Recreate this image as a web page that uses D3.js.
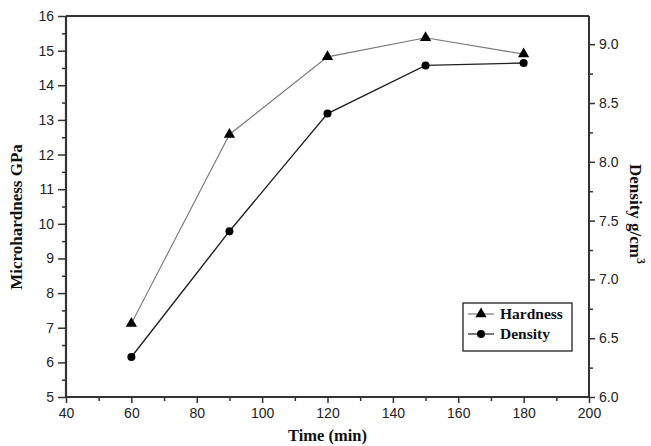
<!DOCTYPE html>
<html>
<head>
<meta charset="utf-8">
<script src="https://cdn.jsdelivr.net/npm/d3@7/dist/d3.min.js"></script>
<style>
  html, body { margin: 0; padding: 0; background: #fff; }
  svg { display: block; }
  .tick text { font-family: "Liberation Sans", Arial, sans-serif; font-size: 14px; fill: #222; }
  .title { font-family: "Liberation Serif", "Times New Roman", serif; font-weight: bold; font-size: 17px; fill: #111; }
  .leg { font-family: "Liberation Serif", "Times New Roman", serif; font-weight: bold; font-size: 15.5px; fill: #111; }
</style>
</head>
<body>
<script>
const times = [60, 90, 120, 150, 180];
const hardness = [7.12, 12.58, 14.82, 15.37, 14.9];
const density = [6.34, 7.41, 8.41, 8.82, 8.84];
const xTicks = [40, 60, 80, 100, 120, 140, 160, 180, 200];
const leftTicks = [5, 6, 7, 8, 9, 10, 11, 12, 13, 14, 15, 16];
const rightTicks = [6.0, 6.5, 7.0, 7.5, 8.0, 8.5, 9.0];

const W = 651, H = 446;
const m = { left: 66, right: 589, top: 16, bottom: 397 };

const svg = d3.select("body").append("svg").attr("width", W).attr("height", H);

const x = d3.scaleLinear().domain([40, 200]).range([m.left, m.right]);
const yL = d3.scaleLinear().domain([5, 16]).range([m.bottom, m.top]);
const yR = d3.scaleLinear().domain([6.0, 9.24]).range([m.bottom, m.top]);

const axisColor = "#333";

function styleAxis(g) {
  g.select(".domain").remove();
  g.selectAll(".tick line").attr("stroke", axisColor).attr("stroke-width", 1.5);
}

// minor ticks
const xMinor = d3.range(50, 200, 20);
const lMinor = d3.range(5.5, 16, 1);
const rMinor = d3.range(6.25, 9.24, 0.5);

svg.append("g").attr("transform", `translate(0,${m.bottom})`)
  .call(d3.axisBottom(x).tickValues(xMinor).tickSize(4).tickFormat(""))
  .call(styleAxis);
svg.append("g").attr("transform", `translate(${m.left},0)`)
  .call(d3.axisLeft(yL).tickValues(lMinor).tickSize(4).tickFormat(""))
  .call(styleAxis);
svg.append("g").attr("transform", `translate(${m.right},0)`)
  .call(d3.axisRight(yR).tickValues(rMinor).tickSize(4).tickFormat(""))
  .call(styleAxis);

// major ticks
svg.append("g").attr("transform", `translate(0,${m.bottom})`)
  .call(d3.axisBottom(x).tickValues(xTicks).tickSize(6).tickPadding(5).tickFormat(d3.format("d")))
  .call(styleAxis);
svg.append("g").attr("transform", `translate(${m.left},0)`)
  .call(d3.axisLeft(yL).tickValues(leftTicks).tickSize(8).tickPadding(4).tickFormat(d3.format("d")))
  .call(styleAxis);
svg.append("g").attr("transform", `translate(${m.right},0)`)
  .call(d3.axisRight(yR).tickValues(rightTicks).tickSize(6).tickPadding(4).tickFormat(d3.format(".1f")))
  .call(styleAxis);

// frame lines
svg.append("line").attr("x1", m.left).attr("x2", m.right).attr("y1", m.top).attr("y2", m.top)
  .attr("stroke", axisColor).attr("stroke-width", 2);
svg.append("line").attr("x1", m.left).attr("x2", m.right).attr("y1", m.bottom).attr("y2", m.bottom)
  .attr("stroke", axisColor).attr("stroke-width", 2);
svg.append("line").attr("x1", m.left).attr("x2", m.left).attr("y1", m.top).attr("y2", m.bottom)
  .attr("stroke", axisColor).attr("stroke-width", 2.2);
svg.append("line").attr("x1", m.right).attr("x2", m.right).attr("y1", m.top).attr("y2", m.bottom)
  .attr("stroke", axisColor).attr("stroke-width", 2);

// lines
const hData = times.map((t, i) => [t, hardness[i]]);
const dData = times.map((t, i) => [t, density[i]]);

svg.append("path").datum(hData)
  .attr("d", d3.line().x(d => x(d[0])).y(d => yL(d[1])))
  .attr("fill", "none").attr("stroke", "#777").attr("stroke-width", 1.1);
svg.append("path").datum(dData)
  .attr("d", d3.line().x(d => x(d[0])).y(d => yR(d[1])))
  .attr("fill", "none").attr("stroke", "#222").attr("stroke-width", 1.4);

const tri = d3.symbol().type(d3.symbolTriangle).size(55);
svg.append("g").selectAll("path").data(hData).join("path")
  .attr("d", tri)
  .attr("transform", d => `translate(${x(d[0])},${yL(d[1])})`)
  .attr("fill", "#000");
svg.append("g").selectAll("circle").data(dData).join("circle")
  .attr("cx", d => x(d[0])).attr("cy", d => yR(d[1])).attr("r", 4)
  .attr("fill", "#000");

// titles
svg.append("text").attr("class", "title").style("font-size", "16.5px")
  .attr("x", (m.left + m.right) / 2).attr("y", 441)
  .attr("text-anchor", "middle").text("Time (min)");
svg.append("text").attr("class", "title")
  .attr("transform", `translate(22,217) rotate(-90)`)
  .attr("text-anchor", "middle").text("Microhardness GPa");
const rt = svg.append("text").attr("class", "title")
  .attr("transform", `translate(630,214) rotate(90)`)
  .attr("text-anchor", "middle");
rt.append("tspan").text("Density g/cm");
rt.append("tspan").attr("dy", -7).attr("font-size", "12px").text("3");

// legend
const lg = svg.append("g").attr("transform", "translate(463,303)");
lg.append("rect").attr("width", 109).attr("height", 48)
  .attr("fill", "#fff").attr("stroke", "#222").attr("stroke-width", 1.3);
const legItems = [
  { name: "Hardness", color: "#777", sym: "tri" },
  { name: "Density", color: "#222", sym: "circ" }
];
legItems.forEach((it, i) => {
  const yy = 11 + i * 20;
  lg.append("line").attr("x1", 5).attr("x2", 31).attr("y1", yy).attr("y2", yy)
    .attr("stroke", it.color).attr("stroke-width", 1.2);
  if (it.sym === "tri") {
    lg.append("path").attr("d", tri).attr("transform", `translate(18,${yy})`).attr("fill", "#000");
  } else {
    lg.append("circle").attr("cx", 18).attr("cy", yy).attr("r", 4).attr("fill", "#000");
  }
  lg.append("text").attr("class", "leg").attr("x", 37).attr("y", yy + 5).text(it.name);
});
</script>
</body>
</html>
